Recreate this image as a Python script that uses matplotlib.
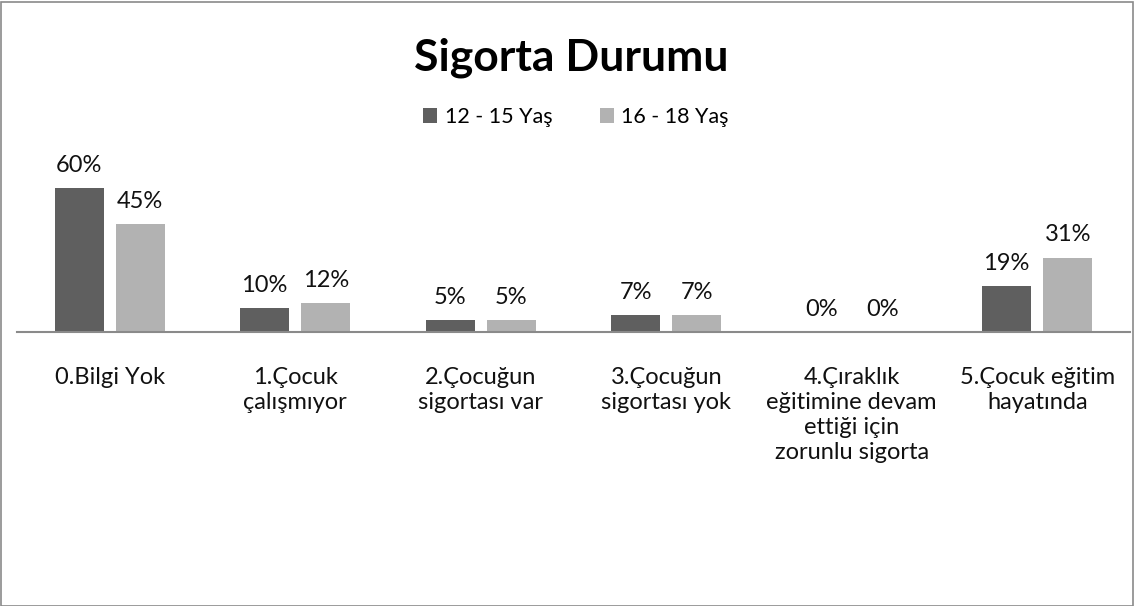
import matplotlib.pyplot as plt
import numpy as np
from matplotlib.patches import Rectangle

plt.rcParams['font.family'] = ['Lato', 'DejaVu Sans']

categories = ['0.Bilgi Yok', '1.Çocuk\nçalışmıyor', '2.Çocuğun\nsigortası var',
              '3.Çocuğun\nsigortası yok',
              '4.Çıraklık\neğitimine devam\nettiği için\nzorunlu sigorta',
              '5.Çocuk eğitim\nhayatında']
yas_12_15 = [0.60, 0.10, 0.05, 0.07, 0.00, 0.19]
yas_16_18 = [0.45, 0.12, 0.05, 0.07, 0.00, 0.31]
series_names = ['12 - 15 Yaş', '16 - 18 Yaş']

dark = '#5f5f5f'
light = '#b2b2b2'

W, H = 1134, 606
fig = plt.figure(figsize=(W / 100, H / 100), dpi=100)
fig.patches.append(Rectangle((0.5 / W, 0.5 / H), 1 - 2 / W, 1 - 2 / H, transform=fig.transFigure,
                             fill=False, edgecolor='#8a8a8a', linewidth=1.2))

# axes: x 17..1130 px, baseline at y=332, top at y=140
ax = fig.add_axes([17 / W, 1 - 332 / H, (1130 - 17) / W, 192 / H])
ax.set_ylim(0, 0.80)
x = np.arange(len(categories))
ax.set_xlim(-0.5, len(categories) - 0.5)

bw = 0.264
off = 0.165
b1 = ax.bar(x - off, yas_12_15, bw, color=dark, label=series_names[0])
b2 = ax.bar(x + off, yas_16_18, bw, color=light, label=series_names[1])

for bars, vals in ((b1, yas_12_15), (b2, yas_16_18)):
    for r, v in zip(bars, vals):
        ax.annotate(f'{v:.0%}', (r.get_x() + r.get_width() / 2, v), xytext=(0, 9),
                    textcoords='offset points', ha='center', va='bottom',
                    fontsize=17, color='#111111')

for s in ['top', 'right', 'left']:
    ax.spines[s].set_visible(False)
ax.spines['bottom'].set_color('#8a8a8a')
ax.spines['bottom'].set_linewidth(1.5)
ax.set_yticks([])
ax.set_xticks(x)
ax.set_xticklabels(categories, fontsize=17, color='#111111', linespacing=1.24)
ax.tick_params(axis='x', length=0, pad=25)

fig.text(571 / W, 1 - 58 / H, 'Sigorta Durumu', ha='center', va='center',
         fontsize=32, fontweight='bold', color='black')
fig.legend(loc='center', bbox_to_anchor=(576 / W, 1 - 117 / H), ncol=2, frameon=False,
           fontsize=15.5, handlelength=0.65, handleheight=0.65, handletextpad=0.35,
           columnspacing=2.2)

fig.savefig('out.png', dpi=100)
